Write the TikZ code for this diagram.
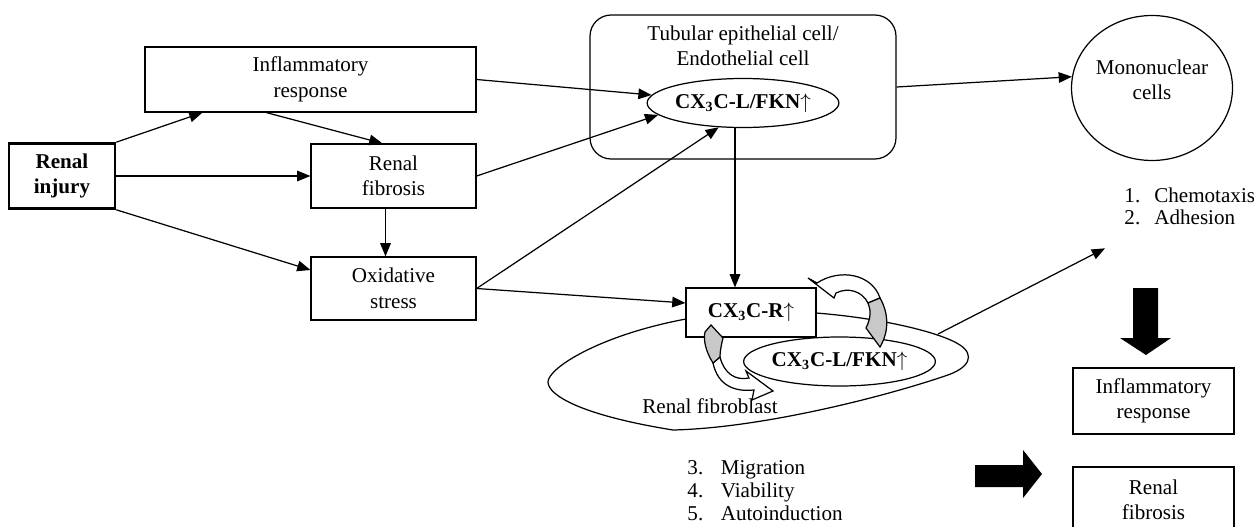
\documentclass[tikz,border=0pt]{standalone}
\usepackage{fontspec}
\setmainfont{Liberation Serif}
\usetikzlibrary{arrows.meta, calc, shapes.geometric}
\definecolor{twistgray}{RGB}{200,200,200}

\begin{document}
\begin{tikzpicture}[x=0.02cm, y=-0.02cm, line width=0.7pt,
  font=\fontsize{12}{14.5}\selectfont, every node/.style={align=center},
  box/.style={draw, fill=white, minimum width=3.3cm, minimum height=1.28cm, inner sep=1pt},
  oval/.style={draw, ellipse, fill=white, minimum width=3.57cm, minimum height=0.98cm, inner sep=0pt, font=\fontsize{12}{14}\selectfont\bfseries},
  link/.style={-{Triangle[length=7.5pt,width=6pt]}},
  listtab/.style={anchor=west, align=left, font=\fontsize{12}{13}\selectfont}]
  \clip (0,0) rectangle (1254,527);
  % fibroblast outline
  \draw (548,382) .. controls (548,368) and (600,335) .. (686,319)
    .. controls (740,312) and (780,310) .. (816,313)
    .. controls (880,318) and (940,332) .. (960,345)
    .. controls (975,355) and (970,368) .. (945,376)
    .. controls (880,398) and (760,428) .. (673,430)
    .. controls (580,415) and (548,395) .. (548,382) -- cycle;
  \coordinate (blobtop) at (938,334);
  % left column
  \node[box, line width=1.5pt, minimum width=2.12cm, minimum height=1.3cm, font=\fontsize{12}{14.5}\selectfont\bfseries] (injury) at (62,176) {Renal\\injury};
  \node[box, minimum width=6.62cm, minimum height=1.3cm] (inflam) at (310.5,79.5) {Inflammatory\\response};
  \node[box] (fibro) at (393.5,176) {Renal\\fibrosis};
  \node[box, minimum height=1.26cm] (oxid) at (393.5,288.5) {Oxidative\\stress};
  % tubular / endothelial cell
  \node[draw, rounded corners=12pt, minimum width=6.12cm, minimum height=2.88cm] (tub) at (743,87) {};
  \node (tubtxt) at (743,46) {Tubular epithelial cell/\\Endothelial cell};
  \node[oval] (ell1) at (743,103) {CX\textsubscript{3}C-L/FKN$\uparrow$};
  % fibroblast receptors
  \node[box, minimum width=2.6cm, minimum height=0.98cm, font=\fontsize{12}{14}\selectfont\bfseries] (cxr) at (751,312.5) {CX\textsubscript{3}C-R$\uparrow$};
  \node[oval] (ell2) at (839.5,361.5) {CX\textsubscript{3}C-L/FKN$\uparrow$};
  \node (fibtxt) at (710,406) {Renal fibroblast};
  % right column
  \node[draw, ellipse, minimum width=3.22cm, minimum height=2.9cm] (mono) at (1152,88) {};
  \node (monotxt) at (1152,80) {Mononuclear\\cells};
  \node[listtab] (chemo) at (1118,209) {\begin{tabular}{@{}l@{\hspace{8pt}}l@{}}1. & Chemotaxis\\2. & Adhesion\end{tabular}};
  \node[box, minimum width=3.22cm, minimum height=1.32cm] (inflam2) at (1153.5,401) {Inflammatory\\response};
  \node[box, minimum width=3.22cm, minimum height=1.32cm] (fibro2) at (1153.5,500) {Renal\\fibrosis};
  \node[listtab] (acts) at (681,493) {\begin{tabular}{@{}l@{\hspace{10pt}}l@{}}3. & Migration\\4. & Viability\\5. & Autoinduction\end{tabular}};
  % connectors
  \draw[link] (injury.north east) -- ($(inflam.south west)+(58,0)$);
  \draw[link] (injury.east) -- (fibro.west);
  \draw[link] (injury.south east) -- ($(oxid.west)+(0,-18.5)$);
  \draw[link] ($(inflam.south west)+(122,0)$) -- ($(fibro.north west)+(72,0)$);
  \draw[link] ($(fibro.south)+(-8,0)$) -- ($(oxid.north)+(-8,0)$);
  \draw[link] (inflam.east) -- (ell1.175);
  \draw[link] (fibro.east) -- (ell1.188);
  \draw[link] (oxid.east) -- (ell1.225);
  \draw[link] (oxid.east) -- ($(cxr.west)+(0,-9.5)$);
  \draw[link] ($(ell1.south)+(-8,0)$) -- ($(cxr.north)+(-16,0)$);
  \draw[link] (tub.east) -- (mono.172);
  \draw[link] (blobtop) -- ($(chemo.south west)+(-13,10)$);
  % autoinduction loop
  \draw[fill=white] (713,363) .. controls (718,386) and (735,392) .. (754,390) -- (752,400) -- (773,391) -- (746,371) -- (749,378) .. controls (735,381) and (724,373) .. (720,357) -- cycle;
  \draw[fill=twistgray] (705,332) -- (711,325) -- (723,338) .. controls (721,346) and (720,352) .. (720,357) -- (713,363) .. controls (706,352) and (703,340) .. (705,332) -- cycle;
  \draw[fill=white] (808,278) -- (817,283) .. controls (840,268) and (872,274) .. (880,298) -- (868,303) .. controls (862,291) and (848,287) .. (836,293) -- (834,298) -- cycle;
  \draw[fill=twistgray] (868,303) -- (880,298) .. controls (888,312) and (890,330) .. (880,347) -- (866,328) .. controls (871,318) and (871,310) .. (868,303) -- cycle;
  % block arrows
  \fill (1133,288) -- (1158,288) -- (1158,338) -- (1171,338) -- (1146,355) -- (1120,338) -- (1133,338) -- cycle;
  \fill (975,465) -- (1023,465) -- (1023,450) -- (1042,474) -- (1023,498) -- (1023,487) -- (975,487) -- cycle;
\end{tikzpicture}
\end{document}
